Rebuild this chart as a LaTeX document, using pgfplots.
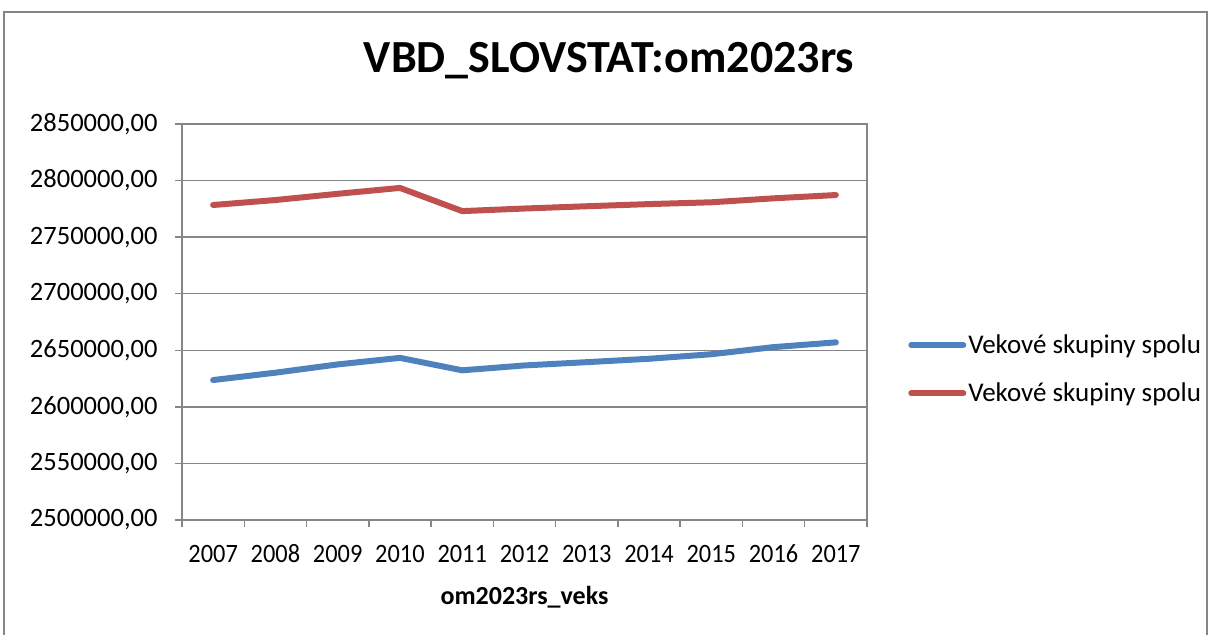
\documentclass[border=0pt]{standalone}
\usepackage{pgfplots}
\pgfplotsset{compat=1.18}
\usepackage{fontspec}
\setmainfont{Carlito}
\newfontfamily\condensed[FakeStretch=0.92]{Carlito}
\definecolor{xblue}{HTML}{4F81BD}
\definecolor{xred}{HTML}{C0504D}
\definecolor{xgray}{HTML}{868686}
\pgfplotstableread{
x y
0 2623700
1 2630200
2 2637500
3 2643300
4 2632300
5 2636600
6 2639500
7 2642500
8 2646500
9 2652800
10 2657000
}\blueData
\pgfplotstableread{
x y
0 2778400
1 2782800
2 2788300
3 2793500
4 2773000
5 2775300
6 2777300
7 2779200
8 2780800
9 2784300
10 2787200
}\redData
\begin{document}
\begin{tikzpicture}
\useasboundingbox (0,0) rectangle (1211bp,635bp);
\begin{scope}
\clip (0,0) rectangle (1211bp,635bp);
\draw[xgray, line width=1.5bp] (4bp,-10bp) rectangle (1207bp,623bp);
\end{scope}
\node[font=\fontsize{46bp}{52bp}\selectfont\bfseries, anchor=base] at (609bp,562bp) {VBD\_SLOVSTAT:om2023rs};
\begin{axis}[
  at={(182bp,115bp)}, anchor=south west,
  scale only axis, width=685bp, height=396bp,
  xmin=-0.5, xmax=10.5, ymin=2500000, ymax=2850000,
  ytick={2500000,2550000,2600000,2650000,2700000,2750000,2800000,2850000},
  scaled y ticks=false,
  xtick={-0.5,0.5,...,10.5}, xticklabels={},
  extra x ticks={0,1,2,3,4,5,6,7,8,9,10},
  extra x tick labels={2007,2008,2009,2010,2011,2012,2013,2014,2015,2016,2017},
  extra x tick style={major tick length=0pt, grid=none},
  xtick pos=left, ytick pos=left,
  tick align=outside, major tick length=7bp,
  ymajorgrids, grid style={xgray, line width=1.5bp},
  axis line style={xgray, line width=1.5bp},
  tick style={xgray, line width=1.5bp},
  /pgf/number format/.cd, fixed, fixed zerofill, precision=2, use comma, 1000 sep={}, assume math mode=true,
  /pgfplots/.cd,
  yticklabel style={font=\fontsize{26.5bp}{30bp}\selectfont, text=black, xshift=-14bp},
  xticklabel style={font=\condensed\fontsize{26.5bp}{30bp}\selectfont, text=black, anchor=base, yshift=-42bp},
  xlabel={\bfseries om2023rs\_veks},
  xlabel style={font=\fontsize{26bp}{30bp}\selectfont, at={(rel axis cs:0.5,0)}, anchor=center, yshift=-77bp},
  legend style={at={(rel axis cs:1.06,0.381)}, anchor=west, draw=none, fill=none,
    font=\fontsize{27bp}{30bp}\selectfont, row sep=24bp, inner sep=0pt},
  legend cell align=left,
  legend image code/.code={\draw[#1] (0bp,0bp) -- (52bp,0bp);},
]
\addplot[xblue, line width=6bp, line cap=round, line join=round] table[x=x,y=y] {\blueData};
\addlegendentry{Vekové skupiny spolu}
\addplot[xred, line width=6bp, line cap=round, line join=round] table[x=x,y=y] {\redData};
\addlegendentry{Vekové skupiny spolu}
\end{axis}
\end{tikzpicture}
\end{document}
